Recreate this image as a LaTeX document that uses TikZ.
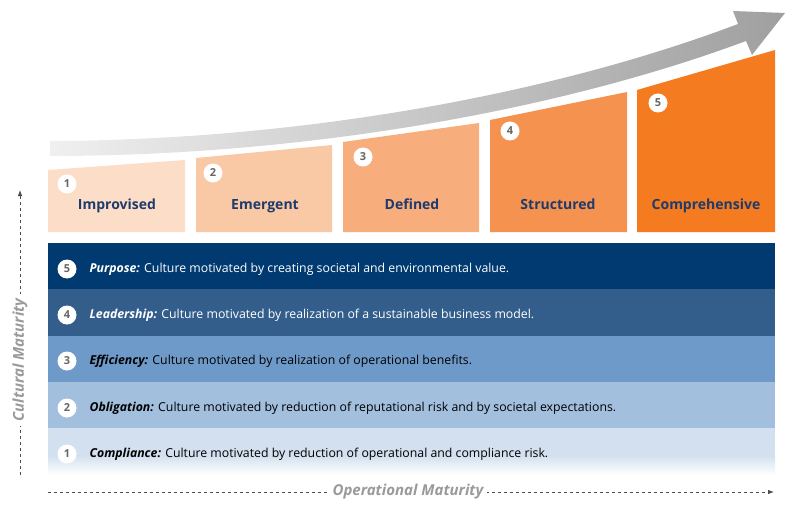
\documentclass[tikz,border=0pt]{standalone}
\usepackage{fontspec}
\setmainfont{Open Sans}
\usetikzlibrary{arrows.meta}
\definecolor{c1}{HTML}{FCDDC8}\definecolor{c2}{HTML}{F9C8A4}\definecolor{c3}{HTML}{F7AE7C}
\definecolor{c4}{HTML}{F5924F}\definecolor{c5}{HTML}{F47B20}
\definecolor{b5}{HTML}{003A70}\definecolor{b4}{HTML}{335E8C}\definecolor{b3}{HTML}{6E9ACA}
\definecolor{b2}{HTML}{A2BFDE}\definecolor{b1}{HTML}{D3E0EF}
\definecolor{navy}{HTML}{1F3B6B}\definecolor{axg}{HTML}{9A9A9A}
\tikzset{
 num/.style={circle,fill=white,inner sep=0pt,minimum size=19pt,text=gray!80!black,font=\fontsize{11}{11}\selectfont\bfseries},
 lvl/.style={anchor=base,text=navy,font=\fontsize{14}{14}\selectfont\bfseries},
 band/.style={anchor=west,font=\fontsize{12.3}{14}\selectfont},
 axis/.style={draw=black!70,dashed,-{Latex[length=6pt]},line width=0.8pt},
 axlab/.style={fill=white,text=axg,font=\fontsize{15}{15}\selectfont\bfseries\itshape,inner sep=4pt}
}
\begin{document}
\begin{tikzpicture}[x=1pt,y=-1pt]
\useasboundingbox (0,0) rectangle (800,516);
% arrow
\shade[left color=gray!12,right color=gray!75] (50,141) .. controls (300,140) and (550,95) .. (738,24) -- (733,11) -- (785,13) -- (752,55) -- (746,41) .. controls (555,112) and (300,156) .. (50,156) -- cycle;
% columns
\fill[c1] (48,170) -- (185,160) -- (185,232) -- (48,232) -- cycle;
\fill[c2] (196,158) -- (332,145) -- (332,232) -- (196,232) -- cycle;
\fill[c3] (343,142) -- (479,123) -- (479,232) -- (343,232) -- cycle;
\fill[c4] (490,120) -- (627,92) -- (627,232) -- (490,232) -- cycle;
\fill[c5] (637,90) -- (775,50) -- (775,232) -- (637,232) -- cycle;
\node[num] (n1) at (67,184) {1};
\node[num] (n2) at (213,173) {2};
\node[num] (n3) at (363,157) {3};
\node[num] (n4) at (510,131) {4};
\node[num] (n5) at (658,103) {5};
\node[lvl] (l1) at (117,209) {Improvised};
\node[lvl] (l2) at (265,209) {Emergent};
\node[lvl] (l3) at (412,209) {Defined};
\node[lvl] (l4) at (558,209) {Structured};
\node[lvl] (l5) at (706,209) {Comprehensive};
% bands
\fill[b5] (48,243) rectangle (775,289);
\fill[b4] (48,289) rectangle (775,336);
\fill[b3] (48,336) rectangle (775,382);
\fill[b2] (48,382) rectangle (775,428);
\fill[b1] (48,428) rectangle (775,456);
\shade[top color=b1,bottom color=white] (48,455.5) rectangle (775,475);
\node[num] (m5) at (67,269) {5};
\node[num] (m4) at (67,315) {4};
\node[num] (m3) at (67,361) {3};
\node[num] (m2) at (67,408) {2};
\node[num] (m1) at (67,454) {1};
\node[band,text=white] (t5) at (86,269) {\textbf{\itshape Purpose:} Culture motivated by creating societal and environmental value.};
\node[band,text=white] (t4) at (86,315) {\textbf{\itshape Leadership:} Culture motivated by realization of a sustainable business model.};
\node[band,text=black] (t3) at (86,361) {\textbf{\itshape Efficiency:} Culture motivated by realization of operational benefits.};
\node[band,text=black] (t2) at (86,408) {\textbf{\itshape Obligation:} Culture motivated by reduction of reputational risk and by societal expectations.};
\node[band,text=black] (t1) at (86,454) {\textbf{\itshape Compliance:} Culture motivated by reduction of operational and compliance risk.};
% axes
\coordinate (v0) at (20,475); \coordinate (v1) at (20,190);
\coordinate (h0) at (48,492); \coordinate (h1) at (774,492);
\draw[axis] (v0) -- (v1);
\draw[axis] (h0) -- (h1);
\node[axlab,rotate=90] (cm) at (20,360) {Cultural Maturity};
\node[axlab] (om) at (408,492) {Operational Maturity};
\end{tikzpicture}
\end{document}
